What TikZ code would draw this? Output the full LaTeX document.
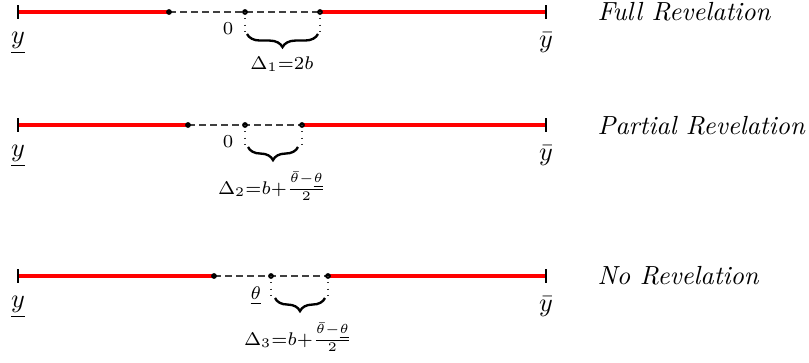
\documentclass[tikz,border=0pt]{standalone}
\usetikzlibrary{decorations.pathreplacing}
\begin{document}
\begin{tikzpicture}[x=0.3817pt,y=-0.3817pt,
  redline/.style={red, line width=1.3pt},
  tickmark/.style={line width=0.8pt},
  gapline/.style={black!75, line width=0.4pt, dash pattern=on 2.6pt off 1.6pt},
  guide/.style={black!80, line width=0.4pt, dotted},
  bracestyle/.style={decorate, decoration={brace, mirror, amplitude=5pt}, line width=0.9pt},
  dotmark/.style={fill=black},
  small/.style={font=\scriptsize, inner sep=1pt},
  endlabel/.style={inner sep=0pt},
  title/.style={font=\itshape, anchor=west, inner sep=0pt}]
\useasboundingbox (0,0) rectangle (809,362);

% ---------- Row 1 ----------
\coordinate (L1) at (18,12);
\coordinate (A1) at (169,12);
\coordinate (Z1) at (245,12);
\coordinate (C1) at (320,12);
\coordinate (R1) at (546,12);
\draw[redline] (L1) -- (A1);
\draw[redline] (C1) -- (R1);
\draw[gapline] (A1) -- (C1);
\draw[tickmark] (L1) ++(0,-7) -- ++(0,14);
\draw[tickmark] (R1) ++(0,-7) -- ++(0,14);
\fill[dotmark] (A1) circle (1.1pt) (Z1) circle (1.1pt) (C1) circle (1.1pt);
\draw[guide] (Z1) -- ++(0,22);
\draw[guide] (C1) -- ++(0,22);
\coordinate (B1a) at (247,34);
\coordinate (B1b) at (318,34);
\draw[bracestyle] (B1a) -- (B1b);
\node[small] (z1) at (228,29) {$0$};
\node[small] (d1) at (282,64) {$\Delta_1{=}2b$};
\node[endlabel] (ly1) at (18,43) {$\underline{y}$};
\node[endlabel] (uy1) at (546,43) {$\bar{y}$};
\node[title] (t1) at (597,12) {Full Revelation};

% ---------- Row 2 ----------
\coordinate (L2) at (18,125);
\coordinate (A2) at (188,125);
\coordinate (Z2) at (245,125);
\coordinate (C2) at (302,125);
\coordinate (R2) at (546,125);
\draw[redline] (L2) -- (A2);
\draw[redline] (C2) -- (R2);
\draw[gapline] (A2) -- (C2);
\draw[tickmark] (L2) ++(0,-7) -- ++(0,14);
\draw[tickmark] (R2) ++(0,-7) -- ++(0,14);
\fill[dotmark] (A2) circle (1.1pt) (Z2) circle (1.1pt) (C2) circle (1.1pt);
\draw[guide] (Z2) -- ++(0,21);
\draw[guide] (C2) -- ++(0,21);
\coordinate (B2a) at (248,147);
\coordinate (B2b) at (298,147);
\draw[bracestyle] (B2a) -- (B2b);
\node[small] (z2) at (228,142) {$0$};
\node[small] (d2) at (272,186) {$\Delta_2{=}b{+}\frac{\bar{\theta}-\underline{\theta}}{2}$};
\node[endlabel] (ly2) at (18,156) {$\underline{y}$};
\node[endlabel] (uy2) at (546,156) {$\bar{y}$};
\node[title] (t2) at (597,126) {Partial Revelation};

% ---------- Row 3 ----------
\coordinate (L3) at (18,276);
\coordinate (A3) at (214,276);
\coordinate (Z3) at (271,276);
\coordinate (C3) at (328,276);
\coordinate (R3) at (546,276);
\draw[redline] (L3) -- (A3);
\draw[redline] (C3) -- (R3);
\draw[gapline] (A3) -- (C3);
\draw[tickmark] (L3) ++(0,-7) -- ++(0,14);
\draw[tickmark] (R3) ++(0,-7) -- ++(0,14);
\fill[dotmark] (A3) circle (1.1pt) (Z3) circle (1.1pt) (C3) circle (1.1pt);
\draw[guide] (Z3) -- ++(0,21);
\draw[guide] (C3) -- ++(0,21);
\coordinate (B3a) at (275,298);
\coordinate (B3b) at (325,298);
\draw[bracestyle] (B3a) -- (B3b);
\node[small] (z3) at (256,296) {$\underline{\theta}$};
\node[small] (d3) at (298,337) {$\Delta_3{=}b{+}\frac{\bar{\theta}-\underline{\theta}}{2}$};
\node[endlabel] (ly3) at (18,307) {$\underline{y}$};
\node[endlabel] (uy3) at (546,307) {$\bar{y}$};
\node[title] (t3) at (597,276) {No Revelation};
\end{tikzpicture}
\end{document}
